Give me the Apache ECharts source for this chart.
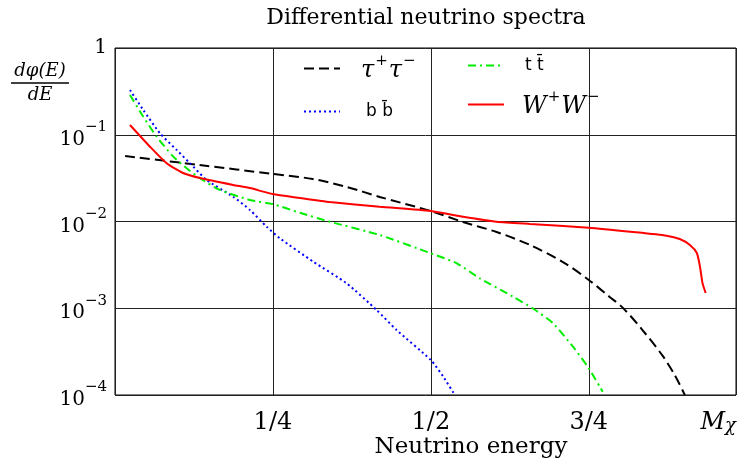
<!DOCTYPE html>
<html>
<head>
<meta charset="utf-8">
<script src="https://cdn.jsdelivr.net/npm/echarts@6/dist/echarts.min.js"></script>
<style>
  html, body { margin: 0; padding: 0; background: #fff; }
  #chart { width: 745px; height: 462px; }
</style>
</head>
<body>
<div id="chart"></div>
<script>
// Differential neutrino spectra (x in units of M_chi, log y)

const xTickValues = [0.25, 0.5, 0.75];
const xTickLabels = ['1/4', '1/2', '3/4'];

const tauX = [0.016, 0.134, 0.25, 0.313, 0.367, 0.419, 0.5, 0.551, 0.604, 0.657, 0.709, 0.75, 0.783, 0.804, 0.835, 0.867, 0.886, 0.902];
const tauY = [0.0569, 0.0448, 0.0353, 0.0309, 0.0250, 0.0192, 0.0132, 0.00986, 0.00757, 0.00536, 0.00341, 0.00212, 0.00135, 0.00101, 0.000561, 0.000282, 0.000170, 0.0001];

const bbX = [0.0237, 0.0448, 0.0712, 0.0976, 0.1187, 0.1451, 0.187, 0.2136, 0.240, 0.261, 0.3138, 0.3666, 0.414, 0.4457, 0.5, 0.5195, 0.538];
const bbY = [0.328, 0.193, 0.104, 0.0667, 0.0469, 0.0301, 0.0193, 0.0136, 0.00871, 0.00640, 0.00344, 0.00194, 0.000955, 0.000562, 0.000253, 0.000163, 0.0001];

const ttX = [0.0237, 0.0448, 0.066, 0.0923, 0.1134, 0.1345, 0.166, 0.2136, 0.2495, 0.2927, 0.340, 0.419, 0.5, 0.541, 0.5775, 0.630, 0.661, 0.693, 0.725, 0.75, 0.772];
const ttY = [0.287, 0.1615, 0.0950, 0.0559, 0.0411, 0.0315, 0.0231, 0.0177, 0.0159, 0.0126, 0.00995, 0.00699, 0.00430, 0.00330, 0.00221, 0.00136, 0.00100, 0.000676, 0.000360, 0.000203, 0.000109];

const wwX = [0.0237, 0.0554, 0.0818, 0.1076, 0.1345, 0.187, 0.2136, 0.2495, 0.2927, 0.340, 0.419, 0.5, 0.551, 0.604, 0.657, 0.75, 0.820, 0.873, 0.894, 0.910, 0.921, 0.926, 0.930, 0.935];
const wwY = [0.1295, 0.0728, 0.0469, 0.0362, 0.0317, 0.0264, 0.0243, 0.0207, 0.0187, 0.0168, 0.0148, 0.0132, 0.01136, 0.00995, 0.00936, 0.00849, 0.00757, 0.00686, 0.00628, 0.00536, 0.00433, 0.00301, 0.00195, 0.00150];

const serif = 'DejaVu Serif';
const sans = 'DejaVu Sans';

function pairs(xs, ys) {
  return xs.map((x, i) => [x, ys[i]]);
}

const supRich = {
  g: { width: 16 },
  g2: { width: 21 },
  g3: { width: 13 },
  m: { fontFamily: serif, fontStyle: 'italic', fontSize: 24, lineHeight: 29, verticalAlign: 'bottom' },
  s: { fontFamily: serif, fontSize: 15, lineHeight: 15, verticalAlign: 'top', padding: [0, 1, 0, 1] },
  t: { fontFamily: sans, fontSize: 17, lineHeight: 24 }
};

function legendFor(name, left, top, fmt) {
  return {
    data: [name],
    left: left,
    top: top,
    padding: 0,
    itemWidth: 36,
    itemHeight: 14,
    selectedMode: false,
    itemStyle: { opacity: 0 },
    textStyle: { color: '#000', rich: supRich },
    formatter: fmt
  };
}

const myChart = echarts.init(document.getElementById('chart'));
myChart.setOption({
  animation: false,
  backgroundColor: '#fff',
  grid: {
    left: 115, right: 9, top: 48, bottom: 67,
    show: true, borderColor: '#000', borderWidth: 1
  },
  legend: [
    legendFor('tau', 303, 54, () => '{g|}{m|τ}{s|+}{m|τ}{s|−}'),
    legendFor('tt', 467, 57, () => '{g|}{t|t t\u0304}'),
    legendFor('bb', 303, 103, () => '{g2|}{t|b b\u0304}'),
    legendFor('ww', 467, 90, () => '{g3|}{m|W}{s|+}{m|W}{s|−}')
  ],
  xAxis: {
    type: 'value',
    min: 0,
    max: 0.983,
    interval: 0.25,
    axisLine: { show: false },
    axisTick: { show: false },
    splitLine: { show: true, lineStyle: { color: '#222', width: 1 } },
    axisLabel: {
      margin: 16,
      color: '#000',
      fontFamily: serif,
      fontSize: 24,
      alignMaxLabel: 'right',
      showMinLabel: false,
      formatter: function (v) {
        for (let i = 0; i < xTickValues.length; i++) {
          if (Math.abs(v - xTickValues[i]) < 1e-6) return xTickLabels[i];
        }
        if (v > 0.9) return '{mm|M}{c|χ}';
        return '';
      },
      rich: {
        mm: { fontFamily: serif, fontStyle: 'italic', fontSize: 24, lineHeight: 24, verticalAlign: 'top', padding: [0, 0, 8, 0] },
        c: { fontFamily: serif, fontStyle: 'italic', fontSize: 18, lineHeight: 18, verticalAlign: 'bottom' }
      }
    }
  },
  yAxis: {
    type: 'log',
    logBase: 10,
    min: 0.0001,
    max: 1,
    axisLine: { show: false },
    axisTick: { show: false },
    splitLine: { show: true, lineStyle: { color: '#222', width: 1 } },
    axisLabel: {
      margin: 8,
      color: '#000',
      fontFamily: serif,
      fontSize: 20,
      formatter: function (v) {
        const e = Math.round(Math.log10(v));
        if (e === 0) return '1';
        return '{b|10}{s|−' + (-e) + '}';
      },
      rich: {
        b: { fontFamily: serif, fontSize: 20, lineHeight: 30, verticalAlign: 'bottom' },
        s: { fontFamily: serif, fontSize: 15, lineHeight: 15, verticalAlign: 'top' }
      }
    }
  },
  graphic: [
    { type: 'text', x: 426, y: 18, style: { text: 'Differential neutrino spectra', font: '22px "DejaVu Serif"', fill: '#000', textAlign: 'center', textVerticalAlign: 'middle' } },
    { type: 'text', x: 471, y: 447, style: { text: 'Neutrino energy', font: '23px "DejaVu Serif"', fill: '#000', textAlign: 'center', textVerticalAlign: 'middle' } },
    { type: 'text', x: 40, y: 71, style: { text: 'dφ(E)', font: 'italic 18px "DejaVu Serif"', fill: '#000', textAlign: 'center', textVerticalAlign: 'middle' } },
    { type: 'line', shape: { x1: 11, y1: 83, x2: 69, y2: 83 }, style: { stroke: '#000', lineWidth: 1.5 } },
    { type: 'text', x: 40, y: 95, style: { text: 'dE', font: 'italic 18px "DejaVu Serif"', fill: '#000', textAlign: 'center', textVerticalAlign: 'middle' } }
  ],
  series: [
    {
      name: 'tau', type: 'line', symbol: 'none', smooth: 0.3,
      lineStyle: { color: '#000', width: 2, type: [10, 5] },
      itemStyle: { color: '#000' },
      data: pairs(tauX, tauY)
    },
    {
      name: 'bb', type: 'line', symbol: 'none', smooth: 0.2,
      lineStyle: { color: '#0000ff', width: 2, type: [2, 3] },
      itemStyle: { color: '#0000ff' },
      data: pairs(bbX, bbY)
    },
    {
      name: 'tt', type: 'line', symbol: 'none', smooth: 0.2,
      lineStyle: { color: '#00ee00', width: 2, type: [8, 4, 2, 4] },
      itemStyle: { color: '#00ee00' },
      data: pairs(ttX, ttY)
    },
    {
      name: 'ww', type: 'line', symbol: 'none', smooth: 0.2,
      lineStyle: { color: '#ff0000', width: 2 },
      itemStyle: { color: '#ff0000' },
      data: pairs(wwX, wwY)
    }
  ]
});
</script>
</body>
</html>
